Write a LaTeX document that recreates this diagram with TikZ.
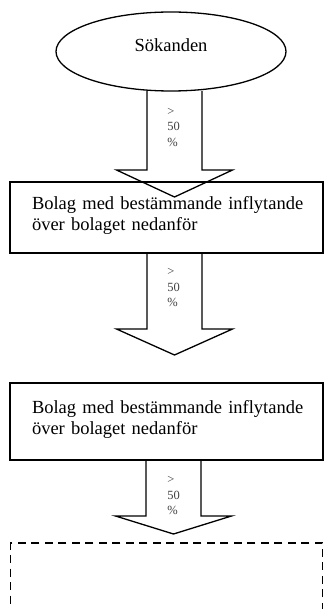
\documentclass[tikz,border=0pt]{standalone}
\usepackage{fontspec}
\setmainfont{Liberation Serif}
\usetikzlibrary{shapes.geometric,calc}

\tikzset{
  every node/.style={inner sep=0pt, outer sep=0pt},
  frame/.style={draw, line width=1.3pt},
  mainfont/.style={font=\fontsize{18.5}{21.3}\selectfont},
  pctfont/.style={font=\fontsize{12.5}{15.2}\selectfont, text=black!75, align=left},
  % hollow block arrow from a node's lower edge down to a tip coordinate;
  % the argument is the height of the arrow head
  blockarrow/.style={line width=1.3pt, line join=miter,
    to path={let \p1=(\tikztostart), \p2=(\tikztotarget) in
      (\x2-27.5pt,\y1) -- (\x2-27.5pt,\y2+#1) -- (\x2-58pt,\y2+#1) -- (\p2)
      -- (\x2+58pt,\y2+#1) -- (\x2+27.5pt,\y2+#1) -- (\x2+27.5pt,\y1)}},
}

\begin{document}
\begin{tikzpicture}[x=1pt, y=-1pt]
\useasboundingbox (0,0) rectangle (324,609);

% applicant
\node[frame, ellipse, minimum width=230pt, minimum height=79pt] (sok) at (171,51.5) {};
\node[mainfont, anchor=base] (soktext) at (171,51.7) {Sökanden};

% controlling companies
\node[frame, rectangle, minimum width=313pt, minimum height=71pt] (b1) at (166.5,217.5) {};
\node[mainfont, anchor=base west, text width=285pt, align=left] (b1text) at (32,209.3)
  {Bolag med bestämmande inflytande\\över bolaget nedanför};

\node[frame, rectangle, minimum width=313pt, minimum height=77pt] (b2) at (166.5,421.5) {};
\node[mainfont, anchor=base west, text width=285pt, align=left] (b2text) at (32,413)
  {Bolag med bestämmande inflytande\\över bolaget nedanför};

% the applicant's target company, open below
\node[draw, line width=1.3pt, dash pattern=on 8pt off 5.5pt, rectangle,
      minimum width=312pt, minimum height=120pt] (b3) at (166.8,603) {};

% arrow tips
\coordinate (t1) at (174.5,197);
\coordinate (t2) at (174.5,355);
\coordinate (t3) at (173.5,534);

\draw[blockarrow=27pt] (sok.south) to (t1);
\draw[blockarrow=26pt] (b1.south) to (t2);
\draw[blockarrow=18pt] (b2.south) to (t3);

% share labels
\node[pctfont] (p1) at (173.5,127.5) {>\\50\\\%};
\node[pctfont] (p2) at (173.5,287.5) {>\\50\\\%};
\node[pctfont] (p3) at (173.5,495.5) {>\\50\\\%};
\end{tikzpicture}
\end{document}
